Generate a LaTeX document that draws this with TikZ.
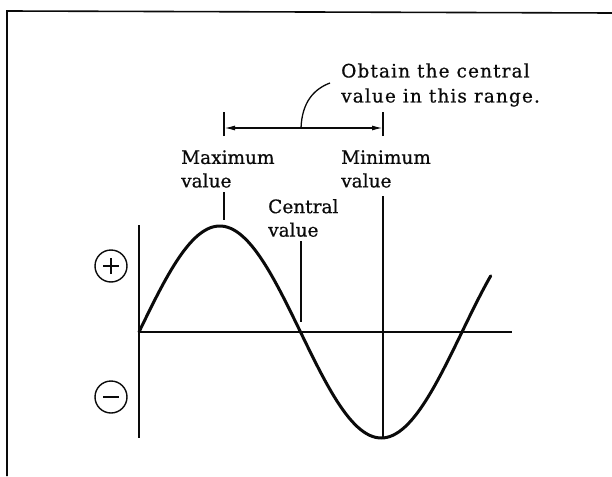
\documentclass[tikz,border=0pt]{standalone}
\usepackage{fontspec}
\setmainfont[FakeBold=0.7]{DejaVu Serif}
\newfontfamily\notefont[LetterSpace=6,FakeBold=0.7]{DejaVu Serif}
\usepackage{tikz}
\usetikzlibrary{arrows.meta, positioning, calc}
\definecolor{wvInk}{HTML}{0A0A0A}
\tikzset{
  frameline/.style={line width=1.6pt, wvInk},
  axisline/.style={line width=1.5pt, wvInk},
  wave/.style={line width=3pt, wvInk, line cap=round},
  guide/.style={line width=1.3pt, wvInk},
  dimline/.style={{Latex[length=11pt,width=5pt]}-{Latex[length=11pt,width=5pt]}, line width=1.5pt, wvInk},
  lbl/.style={font=\fontsize{18.5}{23.5}\selectfont, align=left, inner sep=0pt, anchor=west, text=wvInk},
  notelbl/.style={lbl, font=\notefont\fontsize{18.5}{25}\selectfont},
  sign/.style={draw, circle, line width=1.4pt, minimum size=32pt, inner sep=0pt, wvInk},
  signminus/.style={sign, path picture={
      \draw[line width=1.8pt] ([xshift=-8pt]path picture bounding box.center)
        -- ([xshift=8pt]path picture bounding box.center);}},
  signplus/.style={sign, path picture={
      \draw[line width=1.8pt] ([xshift=-8pt]path picture bounding box.center)
        -- ([xshift=8pt]path picture bounding box.center);
      \draw[line width=1.8pt] ([yshift=-8pt]path picture bounding box.center)
        -- ([yshift=8pt]path picture bounding box.center);}}
}

\begin{document}
\begin{tikzpicture}[x=1pt, y=-1pt]
  \useasboundingbox (0,0) rectangle (612,476);
  % frame (only top and left edges show)
  \coordinate (fbl) at (7,476);
  \coordinate (ftl) at (7,11);
  \coordinate (ftr) at (612,13);
  \draw[frameline] (fbl) -- (ftl) -- (ftr);

  % axes
  \coordinate (O) at (139,332);
  \coordinate (ytop) at (139,225);
  \coordinate (ybot) at (139,438);
  \coordinate (xend) at (512,332);
  \draw[axisline] (ytop) -- (ybot);
  \draw[axisline] (O) -- (xend);

  % the wave
  \draw[wave] plot[domain=0:392, samples=120] ({139+0.89722*\x}, {332-106*sin(\x)});

  % signs
  \node[signplus] (pos) at (111,266) {};
  \node[signminus] (neg) at (111,397) {};

  % labels
  \node[lbl] (maxlbl) at (181,169) {Maximum\\value};
  \node[lbl] (minlbl) at (341,169) {Minimum\\value};
  \node[lbl] (cenlbl) at (268,218) {Central\\value};
  \node[notelbl] (note) at (341,85) {Obtain the central\\value in this range.};

  % guide lines
  \coordinate (maxtop) at (224,192);
  \coordinate (maxpk) at (224,220);
  \coordinate (mintop) at (383,196);
  \coordinate (minbt) at (383,438);
  \coordinate (centop) at (301,241);
  \coordinate (cenbt) at (301,322);
  \draw[guide] (maxtop) -- (maxpk);
  \draw[guide] (mintop) -- (minbt);
  \draw[guide] (centop) -- (cenbt);

  % range
  \coordinate (ra) at (224,128);
  \coordinate (rb) at (383,128);
  \coordinate (rm) at (301,128);
  \draw[guide] ([yshift=-8pt]ra) -- ([yshift=16pt]ra);
  \draw[guide] ([yshift=-8pt]rb) -- ([yshift=16pt]rb);
  \draw[dimline] (ra) -- (rb);
  \coordinate (lead) at (330,83);
  \draw[guide] (rm) .. controls (302,102) and (314,89) .. (lead);
\end{tikzpicture}
\end{document}
